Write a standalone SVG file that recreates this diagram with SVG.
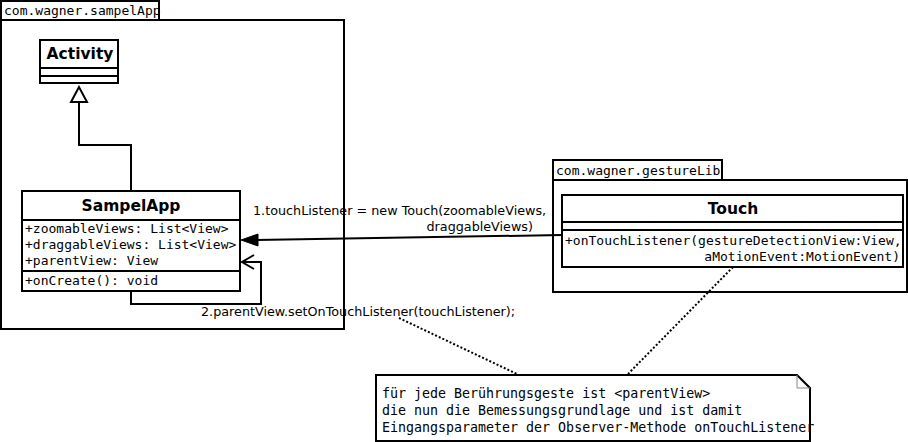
<svg xmlns="http://www.w3.org/2000/svg" width="908" height="442" viewBox="0 0 908 442">
<style>
.b{fill:#fff;stroke:#000;stroke-width:2}
.l{fill:none;stroke:#000;stroke-width:2}
.mono{font-family:"DejaVu Sans Mono","Liberation Mono",monospace;font-size:13px;fill:#000}
.note{font-family:"DejaVu Sans Mono","Liberation Mono",monospace;font-size:13.3px;fill:#000}
.sans{font-family:"DejaVu Sans","Liberation Sans",sans-serif;font-size:12.75px;fill:#000}
.title{font-family:"DejaVu Sans","Liberation Sans",sans-serif;font-size:15.5px;font-weight:bold;fill:#000;text-anchor:middle}
.dot{fill:none;stroke:#000;stroke-width:2;stroke-dasharray:2,2}
</style>
<rect width="908" height="442" fill="#fff"/>
<g id="pkg-sampelApp">
<rect class="b" x="1" y="1" width="158" height="19"/>
<rect class="b" x="1" y="20" width="343" height="309"/>
<text class="mono" x="4" y="15">com.wagner.sampelApp</text>
</g>
<g id="pkg-gestureLib">
<rect class="b" x="553" y="160" width="169" height="20"/>
<rect class="b" x="553" y="180" width="354" height="112"/>
<text class="mono" x="556" y="175">com.wagner.gestureLib</text>
</g>
<g id="Activity">
<rect class="b" x="40" y="40" width="78" height="43"/>
<line class="l" x1="40" y1="68" x2="118" y2="68"/>
<line class="l" x1="40" y1="76" x2="118" y2="76"/>
<text class="title" x="80" y="59">Activity</text>
</g>
<g id="SampelApp">
<rect class="b" x="22" y="191" width="218" height="100"/>
<line class="l" x1="22" y1="220" x2="240" y2="220"/>
<line class="l" x1="22" y1="271" x2="240" y2="271"/>
<text class="title" x="131" y="211">SampelApp</text>
<text class="mono" x="25" y="233">+zoomableViews: List&lt;View&gt;</text>
<text class="mono" x="25" y="249">+draggableViews: List&lt;View&gt;</text>
<text class="mono" x="25" y="265">+parentView: View</text>
<text class="mono" x="25" y="285">+onCreate(): void</text>
</g>
<g id="Touch">
<rect class="b" x="562" y="195" width="341" height="72"/>
<line class="l" x1="562" y1="222" x2="903" y2="222"/>
<line class="l" x1="562" y1="230" x2="903" y2="230"/>
<text class="title" x="733" y="214">Touch</text>
<text class="mono" x="565" y="245">+onTouchListener(gestureDetectionView:View,</text>
<text class="mono" x="900" y="261" text-anchor="end">aMotionEvent:MotionEvent)</text>
</g>
<g id="note">
<path d="M376 375 H797 L810 388 V441 H376 Z" fill="#fff" stroke="#000" stroke-width="2"/>
<path d="M797 375 V388 H810" fill="none" stroke="#888" stroke-width="1"/>
<text class="note" x="382" y="398">für jede Berührungsgeste ist &lt;parentView&gt;</text>
<text class="note" x="382" y="415">die nun die Bemessungsgrundlage und ist damit</text>
<text class="note" x="382" y="432">Eingangsparameter der Observer-Methode onTouchListener</text>
</g>
<g id="connectors">
<polyline class="l" points="131,191 131,145 79,145 79,102"/>
<polygon points="79,87 71,102 87,102" fill="#fff" stroke="#000" stroke-width="2"/>
<line class="l" x1="562" y1="235" x2="256" y2="240"/>
<polygon points="241,240 258,234 258,246" fill="#000" stroke="#000" stroke-width="1"/>
<text class="sans" x="253" y="215">1.touchListener = new Touch(zoomableViews,</text>
<text class="sans" x="533" y="231" text-anchor="end">draggableViews)</text>
<polyline class="l" points="131,291 131,304 261,304 261,262 242,262"/>
<polyline class="l" points="254,255 242,262 254,269"/>
<text class="sans" x="201" y="316">2.parentView.setOnTouchListener(touchListener);</text>
<line class="dot" x1="399" y1="318" x2="517" y2="374"/>
<line class="dot" x1="733" y1="267" x2="628" y2="374"/>
</g>
</svg>
